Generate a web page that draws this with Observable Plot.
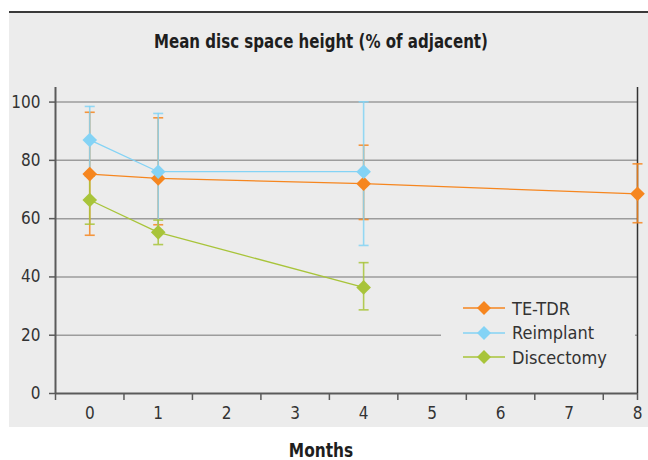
<!DOCTYPE html>
<html>
<head>
<meta charset="utf-8">
<script src="https://cdn.jsdelivr.net/npm/d3@7"></script>
<script src="https://cdn.jsdelivr.net/npm/@observablehq/plot@0.6"></script>
<style>
  html, body { margin: 0; padding: 0; background: #ffffff; }
  #wrap { position: relative; width: 648px; height: 460px; overflow: hidden;
          font-family: "Liberation Sans Narrow", "DejaVu Sans Condensed", sans-serif; }
  #bg { position: absolute; left: 9px; top: 11px; width: 639px; height: 416px;
        background: #ececec; border-top: 2px solid #3a3a3a; box-sizing: border-box; }
  #title { position: absolute; left: 0; top: 30px; width: 642px; text-align: center;
           font-weight: bold; font-size: 19px; line-height: 22px; color: #1e1e1e;
           transform: scaleX(0.88); transform-origin: 321px 0; }
  #chart { position: absolute; left: 0; top: 0; }
  #legend { position: absolute; left: 441px; top: 296px; width: 194px; height: 76px;
            background: #ececec; }
  .lrow { position: absolute; left: 0; height: 24px; display: flex; align-items: center;
          font-size: 18px; color: #333; }
  .lrow svg { margin-left: 22px; margin-right: 7px; }
  #xlabel { position: absolute; left: 0; top: 441px; width: 642px; text-align: center;
            font-weight: bold; font-size: 19px; line-height: 19px; color: #1e1e1e;
            transform: scaleX(0.9); transform-origin: 321px 0; }
</style>
</head>
<body>
<div id="wrap">
  <div id="bg"></div>
  <div id="title">Mean disc space height (% of adjacent)</div>
  <div id="chart"></div>
  <div id="legend"></div>
  <div id="xlabel">Months</div>
</div>
<script>
// ---- data ----
const seriesNames = ["TE-TDR", "Reimplant", "Discectomy"];
const seriesColors = ["#f6861f", "#84d3f5", "#a8c43a"];

const teTdrMonths = [0, 1, 4, 8];
const teTdrMean   = [75.3, 73.8, 72.0, 68.5];
const teTdrUpper  = [96.5, 94.6, 85.2, 78.8];
const teTdrLower  = [54.3, 57.9, 59.7, 58.6];

const reimplantMonths = [0, 1, 4];
const reimplantMean   = [87.0, 76.1, 76.1];
const reimplantUpper  = [98.5, 96.1, 100.1];
const reimplantLower  = [75.5, 56.1, 50.8];

const discectomyMonths = [0, 1, 4];
const discectomyMean   = [66.4, 55.3, 36.4];
const discectomyUpper  = [74.6, 59.5, 44.9];
const discectomyLower  = [58.1, 51.1, 28.7];

const yTicks = [0, 20, 40, 60, 80, 100];
const xTickLabels = [0, 1, 2, 3, 4, 5, 6, 7, 8];

// ---- build rows ----
function rows(name, months, mean, upper, lower) {
  return months.map((m, i) => ({series: name, month: m, mean: mean[i], upper: upper[i], lower: lower[i]}));
}
const allSeries = [
  rows("TE-TDR", teTdrMonths, teTdrMean, teTdrUpper, teTdrLower),
  rows("Reimplant", reimplantMonths, reimplantMean, reimplantUpper, reimplantLower),
  rows("Discectomy", discectomyMonths, discectomyMean, discectomyUpper, discectomyLower)
];

// x axis is category-like: data at integers, boundaries half a unit away
const xDomain = [-0.5, 8];
const xTickMarks = xTickLabels.map(v => v - 0.5).concat([8]);
const gridValues = yTicks.filter(v => v > 0);

const capSymbol = { draw(ctx) { ctx.moveTo(-5, 0); ctx.lineTo(5, 0); } };

const font = '"Liberation Sans Narrow", "DejaVu Sans Condensed", sans-serif';

const marks = [
  Plot.ruleY(gridValues, {stroke: "#9c9c9c", strokeWidth: 1.5}),
  Plot.ruleX([8], {y1: 0, y2: 105, stroke: "#333", strokeWidth: 1.5}),
  Plot.ruleX([-0.5], {y1: 0, y2: 105, stroke: "#5a5a5a", strokeWidth: 2}),
  Plot.ruleY([0], {stroke: "#5a5a5a", strokeWidth: 2}),
  Plot.axisY({ticks: yTicks, tickSize: 6, tickPadding: 9, stroke: "#5a5a5a", strokeWidth: 1.5,
              fill: "#333", fontSize: 17, label: null, tickFormat: d => d}),
  Plot.axisX({ticks: xTickMarks, tickSize: 7, tickFormat: () => "", stroke: "#5a5a5a", strokeWidth: 1.5, label: null}),
  Plot.axisX({ticks: xTickLabels, tickSize: 0, tickPadding: 13, fill: "#333", fontSize: 17, label: null, tickFormat: d => d})
];

allSeries.forEach((data, i) => {
  const c = seriesColors[i];
  marks.push(
    Plot.ruleX(data, {x: "month", y1: "lower", y2: "upper", stroke: c, strokeWidth: 1.6, strokeOpacity: 0.85}),
    Plot.dot(data, {x: "month", y: "upper", symbol: capSymbol, r: 3, stroke: c, strokeWidth: 1.6, strokeOpacity: 0.85}),
    Plot.dot(data, {x: "month", y: "lower", symbol: capSymbol, r: 3, stroke: c, strokeWidth: 1.6, strokeOpacity: 0.85})
  );
});
allSeries.forEach((data, i) => {
  const c = seriesColors[i];
  marks.push(
    Plot.line(data, {x: "month", y: "mean", stroke: c, strokeWidth: 1.3}),
    Plot.dot(data, {x: "month", y: "mean", symbol: "diamond2", r: 6.6, fill: c, stroke: "none"})
  );
});

const chart = Plot.plot({
  width: 648, height: 460,
  marginLeft: 55, marginRight: 11, marginTop: 87, marginBottom: 67,
  style: {background: "transparent", fontFamily: font, fontSize: "17px", color: "#333", overflow: "visible"},
  x: {domain: xDomain},
  y: {domain: [0, 105]},
  marks
});
document.getElementById("chart").appendChild(chart);

// legend
const legend = document.getElementById("legend");
seriesNames.forEach((name, i) => {
  const row = document.createElement("div");
  row.className = "lrow";
  row.style.top = (i * 24.5) + "px";
  const c = seriesColors[i];
  row.innerHTML = `<svg width="42" height="16" viewBox="0 0 42 16">
      <line x1="0" y1="8" x2="42" y2="8" stroke="${c}" stroke-width="1.5"/>
      <path d="M21,1 L28,8 L21,15 L14,8 Z" fill="${c}"/>
    </svg><span>${name}</span>`;
  legend.appendChild(row);
});
</script>
</body>
</html>
